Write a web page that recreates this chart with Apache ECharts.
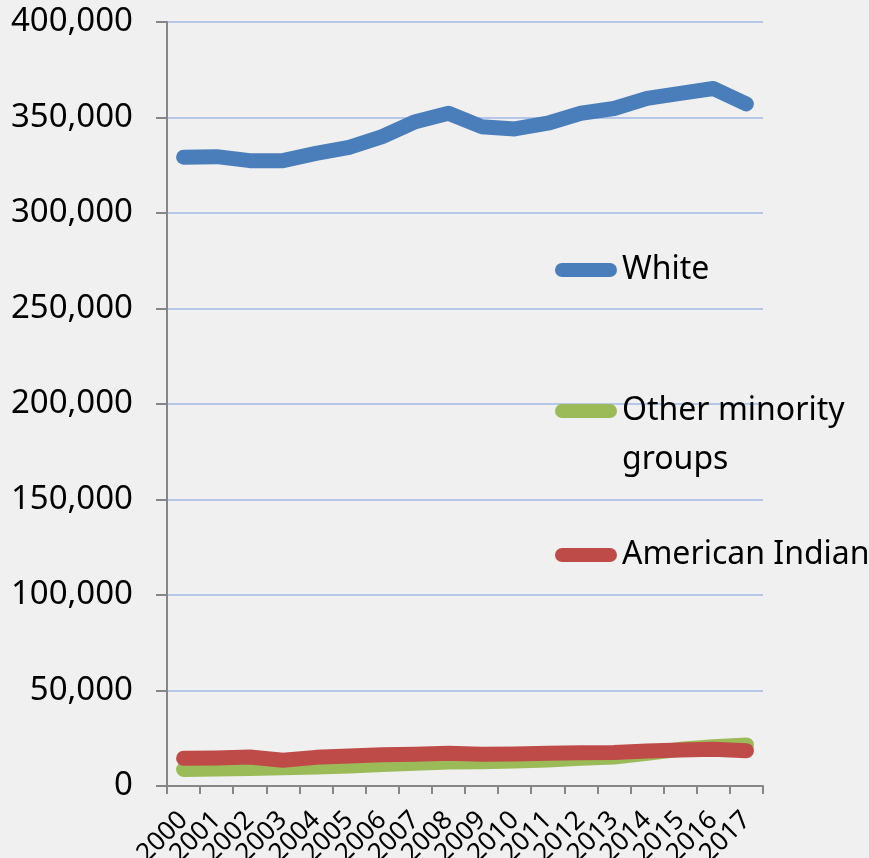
<!DOCTYPE html>
<html>
<head>
<meta charset="utf-8">
<script src="https://cdn.jsdelivr.net/npm/echarts@6/dist/echarts.min.js"></script>
<style>
  html, body { margin: 0; padding: 0; background: #f0f0f0; }
  #chart { width: 869px; height: 858px; }
</style>
</head>
<body>
<div id="chart"></div>
<script>
const years = ['2000', '2001', '2002', '2003', '2004', '2005', '2006', '2007', '2008',
  '2009', '2010', '2011', '2012', '2013', '2014', '2015', '2016', '2017']

const white = [329200, 329500, 327400, 327400, 331200, 334400, 340000, 347800, 352200,
  345200, 344000, 347000, 352200, 354700, 360000, 362600, 365200, 357100]
const otherMinority = [8700, 8900, 9200, 9500, 9900, 10500, 11200, 11900, 12600,
  12700, 13100, 13600, 14500, 15200, 17100, 19200, 20600, 21500]
const americanIndian = [14500, 14700, 15200, 13500, 15000, 15700, 16300, 16600, 17100,
  16600, 16800, 17100, 17400, 17600, 18300, 18800, 19200, 18500]

const yTicks = [0, 50000, 100000, 150000, 200000, 250000, 300000, 350000, 400000]

const seriesNames = ['White', 'Other minority groups', 'American Indian']
const colors = ['#4a7ebb', '#9bbb59', '#be4b48']

const chart = echarts.init(document.getElementById('chart'))

const pill = 'path://M7,0 H55 A7,7 0 0 1 55,14 H7 A7,7 0 0 1 7,0 Z'
const fontFamily = '"Noto Sans", sans-serif'

// one legend per item so each can sit where the original has it
function makeLegend(name, top) {
  return {
    data: [name],
    orient: 'vertical',
    left: 555,
    top: top,
    padding: 0,
    icon: pill,
    itemWidth: 62,
    itemHeight: 15,
    itemGap: 0,
    selectedMode: false,
    // empty first line keeps the pill level with "Other minority"
    formatter: n => n === 'Other minority groups' ? '\nOther minority\ngroups' : n,
    textStyle: {
      color: '#000',
      fontSize: 32,
      lineHeight: 49,
      fontFamily: fontFamily,
    },
  }
}

function makeSeries(name, data, color) {
  return {
    name: name,
    type: 'line',
    data: data,
    showSymbol: false,
    symbol: 'none',
    smooth: false,
    color: color,
    lineStyle: { color: color, width: 15, cap: 'round', join: 'round' },
  }
}

chart.setOption({
  backgroundColor: '#f0f0f0',
  animation: false,
  grid: { left: 167, right: 106, top: 22, bottom: 72, outerBoundsMode: 'none', containLabel: false },
  legend: [
    makeLegend('White', 245.5),
    makeLegend('Other minority groups', 337.5),
    makeLegend('American Indian', 530.5),
  ],
  xAxis: {
    type: 'category',
    data: years,
    boundaryGap: true,
    axisLine: { lineStyle: { color: '#868686', width: 2 } },
    axisTick: { show: true, length: 8, lineStyle: { color: '#868686', width: 2 } },
    axisLabel: {
      rotate: 45,
      interval: 0,
      margin: 30,
      color: '#000',
      fontSize: 26,
      fontFamily: fontFamily,
    },
    splitLine: { show: false },
  },
  yAxis: {
    type: 'value',
    min: 0,
    max: 400000,
    interval: 50000,
    axisLine: { show: true, lineStyle: { color: '#868686', width: 2 } },
    axisTick: { show: true, inside: false, length: 11, lineStyle: { color: '#868686', width: 2 } },
    axisLabel: {
      margin: 34,
      color: '#000',
      fontSize: 33,
      fontFamily: fontFamily,
      formatter: v => yTicks.includes(v) ? v.toLocaleString('en-US') : '',
    },
    splitLine: { lineStyle: { color: '#b4c7e7', width: 2 } },
  },
  series: [
    makeSeries(seriesNames[0], white, colors[0]),
    makeSeries(seriesNames[1], otherMinority, colors[1]),
    makeSeries(seriesNames[2], americanIndian, colors[2]),
  ],
})
</script>
</body>
</html>
